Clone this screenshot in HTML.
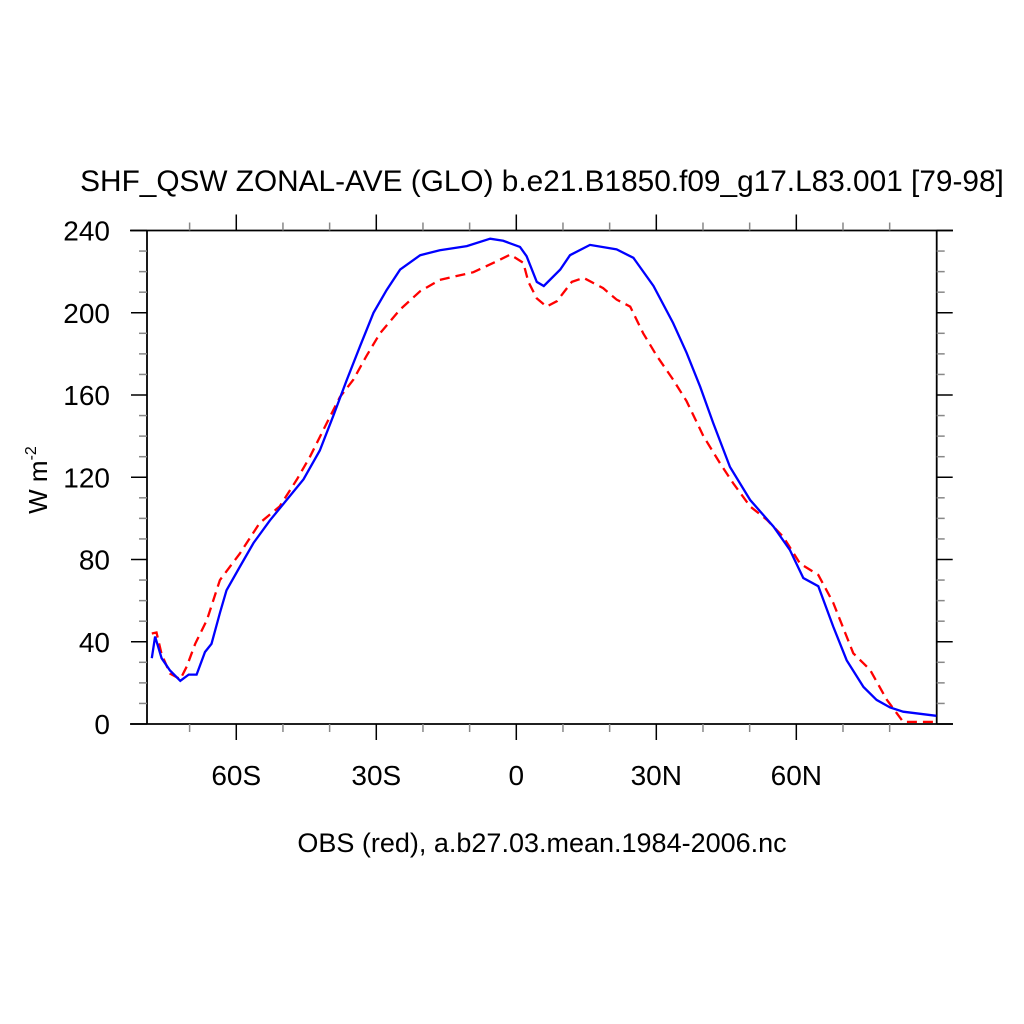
<!DOCTYPE html>
<html><head><meta charset="utf-8"><style>
html,body{margin:0;padding:0;background:#fff;}
svg{display:block;font-family:"Liberation Sans",sans-serif;}
</style></head><body>
<svg id="chart" width="1024" height="1024" viewBox="0 0 1024 1024">
<text x="542" y="191" font-size="29.8" text-anchor="middle">SHF_QSW ZONAL-AVE (GLO) b.e21.B1850.f09_g17.L83.001 [79-98]</text>
<text x="542" y="852" font-size="27" text-anchor="middle">OBS (red), a.b27.03.mean.1984-2006.nc</text>
<text transform="translate(47,480) rotate(-90)" font-size="26" text-anchor="middle">W m<tspan font-size="16" dy="-11">-2</tspan></text>
<g id="axes"></g>
<g id="series"></g>
</svg>
<script>
const blueLat=[-78.1,-77.4,-76,-74.2,-72,-70.2,-68.5,-66.7,-65.3,-63.5,-62.1,-59.2,-56.3,-52.8,-49.2,-45.6,-42.1,-39.2,-36.3,-33.5,-30.6,-27.8,-24.9,-20.6,-16.4,-10.6,-5.6,-2.8,0.8,2.2,4.4,5.9,9.4,11.5,15.8,21.5,25.1,29.4,33.6,36.5,39.4,42.2,45.8,50.1,55.1,58.6,61.5,64.7,67.9,70.8,74.4,77.2,80.1,82.9,90];
const blueVal=[32,42.5,32,26,21,24,24,35,39,54,65,76.6,88,99,109,119,133,150,167.5,183.7,200,211,221,228,230.4,232.4,236,235,232,227.5,215,213,221,228,233,230.8,226.7,213,195,180.5,164,146.4,125,109,96,84.7,71,67,47.4,31,18,11.7,8,6,4];
const redLat=[-78.1,-77.1,-76,-74.2,-72,-70.6,-68.8,-66.3,-63.5,-59.2,-55,-50.7,-47,-44.2,-40.6,-37.8,-34.9,-32.1,-29.2,-24.9,-20.6,-16.4,-9.2,-4.2,-1.3,1.5,2.6,4.4,6.5,8.7,11.9,14.4,18.6,21.5,24.4,27.2,30.1,33.6,36.5,40.1,43.6,46.5,50.1,53.7,57.2,60.8,64.7,67.9,72.2,75.8,79.4,82.9,90];
const redVal=[44,44.5,34,24.5,21.8,28,39,50.6,70,83,97.7,105.8,119,130,146.4,159,167.5,179,190,201.6,210.5,216,219.7,225,228.3,224.3,215,207,203,205.6,215,217,212,206.4,203,190,179,167.5,157,140,127,117,105.8,99.3,91,78,72.5,59,34.4,26.3,11.7,1,1];
const xTicks=[-60,-30,0,30,60];
const xTickLabels=["60S","30S","0","30N","60N"];
const yTicks=[0,40,80,120,160,200,240];
const yTickLabels=["0","40","80","120","160","200","240"];
const NS="http://www.w3.org/2000/svg";
const L=147,R=936.7,T=230.5,B=724;
function xs(v){return 516.3+(v)*4.667;}
function ys(v){return B-v*(B-T)/240;}
const ax=document.getElementById('axes'),se=document.getElementById('series');
function mk(tag,attrs,parent){const e=document.createElementNS(NS,tag);for(const k in attrs)e.setAttribute(k,attrs[k]);parent.appendChild(e);return e;}
function line(x1,y1,x2,y2,w,c){return mk('line',{x1,y1,x2,y2,stroke:c||'#000','stroke-width':w||1.5},ax);}
let e;
e=line(130,T,953,T,1.8);
e=line(130,B,953,B,1.8);
e=line(L,T,L,B,1.8);
e=line(R,T,R,B,1.8);
for(let v=-70;v<=80;v+=10){const x=xs(v);if(x<L||x>R)continue;const maj=v%30===0;const len=maj?16:8;const c=maj?'#000':'#888';
e=line(x,T,x,T-len,1.5,c);
e=line(x,B,x,B+len,1.5,c);}
for(let v=0;v<=240;v+=10){const y=ys(v);const maj=v%40===0;const len=maj?16:8;const c=maj?'#000':'#888';
e=line(L,y,L-len,y,1.5,c);
e=line(R,y,R+len,y,1.5,c);}
xTicks.forEach((v,i)=>{const t=mk('text',{x:xs(v),y:785,'font-size':28,'text-anchor':'middle'},ax);t.textContent=xTickLabels[i];

});
yTicks.forEach((v,i)=>{const t=mk('text',{x:110,y:ys(v)+10,'font-size':28,'text-anchor':'end'},ax);t.textContent=yTickLabels[i];

});
function path(lat,val){return lat.map((v,i)=>(i?'L':'M')+xs(v).toFixed(1)+' '+ys(val[i]).toFixed(1)).join(' ');}
const rp=mk('path',{d:path(redLat,redVal),fill:'none',stroke:'#ff0000','stroke-width':2.3,'stroke-dasharray':'10 6'},se);


const bp=mk('path',{d:path(blueLat,blueVal),fill:'none',stroke:'#0000ff','stroke-width':2.3},se);


</script>
</body></html>
